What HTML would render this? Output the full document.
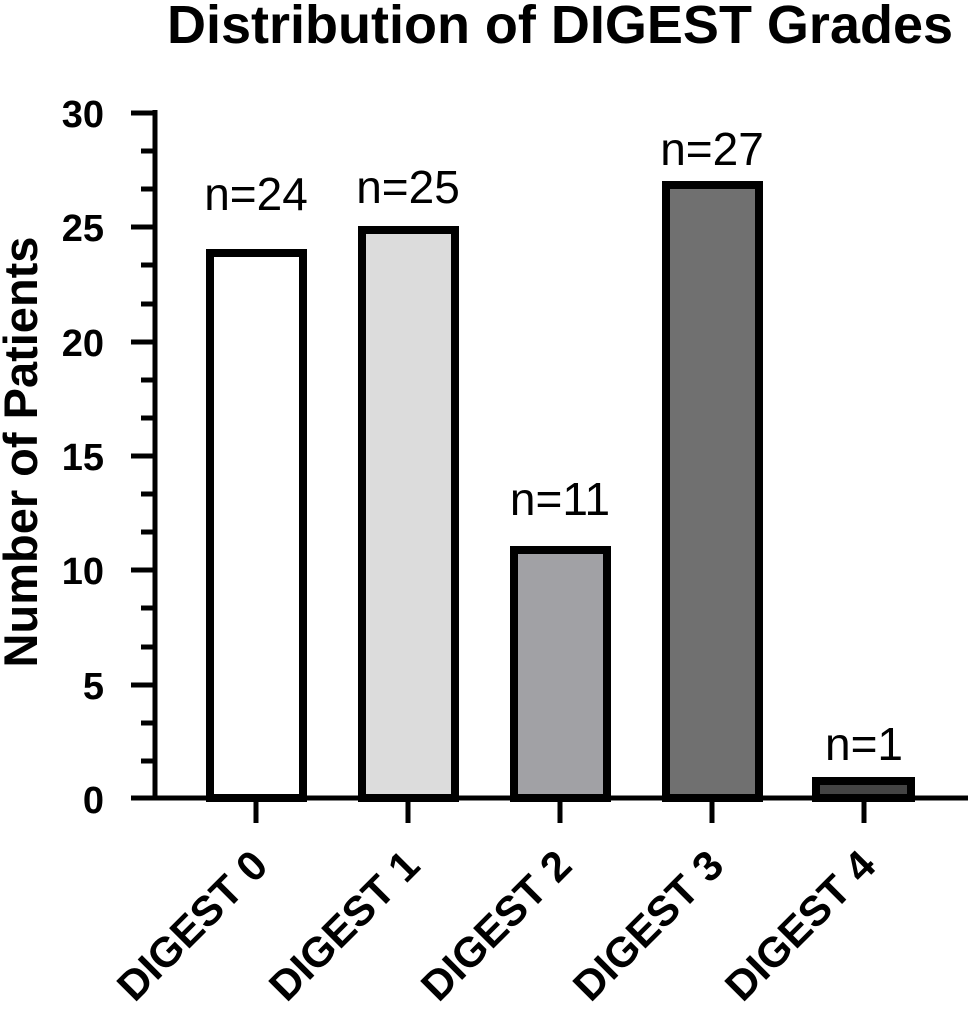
<!DOCTYPE html>
<html><head><meta charset="utf-8"><style>body{margin:0;background:#fff}svg{display:block}</style></head>
<body>
<svg width="968" height="1019" viewBox="0 0 968 1019" font-family="Liberation Sans, Arial, sans-serif">
<text x="560" y="43" font-size="54" font-weight="bold" text-anchor="middle">Distribution of DIGEST Grades</text>
<text transform="translate(37,452) rotate(-90)" font-size="47" font-weight="bold" text-anchor="middle">Number of Patients</text>
<g stroke="#000" stroke-width="5">
<line x1="155" y1="110" x2="155" y2="800"/>
<line x1="131" y1="798" x2="968" y2="798"/>
<line x1="131" y1="113" x2="155" y2="113"/>
<line x1="131" y1="227" x2="155" y2="227"/>
<line x1="131" y1="342" x2="155" y2="342"/>
<line x1="131" y1="456" x2="155" y2="456"/>
<line x1="131" y1="570" x2="155" y2="570"/>
<line x1="131" y1="685" x2="155" y2="685"/>
<g>
<line x1="141" y1="151" x2="155" y2="151"/><line x1="141" y1="189" x2="155" y2="189"/>
<line x1="141" y1="265" x2="155" y2="265"/><line x1="141" y1="304" x2="155" y2="304"/>
<line x1="141" y1="380" x2="155" y2="380"/><line x1="141" y1="418" x2="155" y2="418"/>
<line x1="141" y1="494" x2="155" y2="494"/><line x1="141" y1="532" x2="155" y2="532"/>
<line x1="141" y1="608" x2="155" y2="608"/><line x1="141" y1="647" x2="155" y2="647"/>
<line x1="141" y1="723" x2="155" y2="723"/><line x1="141" y1="761" x2="155" y2="761"/>
</g>
<line x1="256" y1="798" x2="256" y2="823"/><line x1="408" y1="798" x2="408" y2="823"/><line x1="560" y1="798" x2="560" y2="823"/><line x1="712" y1="798" x2="712" y2="823"/><line x1="864" y1="798" x2="864" y2="823"/>
</g>
<g font-size="38" font-weight="bold" text-anchor="end">
<text x="104" y="127">30</text><text x="104" y="241">25</text><text x="104" y="356">20</text><text x="104" y="470">15</text><text x="104" y="584">10</text><text x="104" y="699">5</text><text x="104" y="813">0</text>
</g>
<g stroke="#000" stroke-width="8">
<rect x="210" y="253" width="93" height="545" fill="#fff"/>
<rect x="362" y="230" width="93" height="568" fill="#dcdcdc"/>
<rect x="514" y="550" width="93" height="248" fill="#a1a1a5"/>
<rect x="666" y="185" width="93" height="613" fill="#707070"/>
<rect x="816" y="781" width="95" height="17" fill="#444"/>
</g>
<g font-size="46" text-anchor="middle">
<text x="256" y="210">n=24</text><text x="408" y="203">n=25</text><text x="560" y="515">n=11</text><text x="712" y="165">n=27</text><text x="864" y="760">n=1</text>
</g>
<g font-size="42" font-weight="bold" text-anchor="end">
<text transform="translate(270,868) rotate(-45)">DIGEST 0</text>
<text transform="translate(422,868) rotate(-45)">DIGEST 1</text>
<text transform="translate(574,868) rotate(-45)">DIGEST 2</text>
<text transform="translate(726,868) rotate(-45)">DIGEST 3</text>
<text transform="translate(878,868) rotate(-45)">DIGEST 4</text>
</g>
</svg>
</body></html>
